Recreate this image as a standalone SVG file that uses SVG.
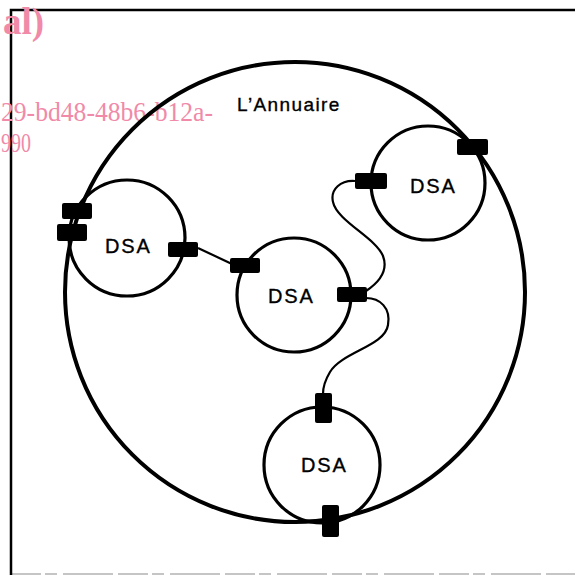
<svg xmlns="http://www.w3.org/2000/svg" width="575" height="575" viewBox="0 0 575 575">
  <style>
    .frame { fill: none; stroke: #000; stroke-width: 2.5; }
    .ring { fill: none; stroke: #000; stroke-width: 4; }
    .dsa { fill: none; stroke: #000; stroke-width: 3.2; }
    .link { fill: none; stroke: #000; stroke-width: 2.2; }
    .port { fill: #000; }
    .label { font-family: "Liberation Sans", Arial, sans-serif; fill: #000; stroke: #000; stroke-width: 0.35; }
    .mark { font-family: "Liberation Serif", "Times New Roman", serif; fill: #f08aa8; }
  </style>
  <rect width="575" height="575" fill="#fff"/>

  <!-- page frame -->
  <path class="frame" d="M11,575 V10 H575"/>
  <path d="M11,574 H575" stroke="#000" stroke-width="1.2" stroke-dasharray="30 4 12 6 50 5" opacity="0.45"/>

  <!-- overprinted marks -->
  <text class="mark" x="3" y="34" font-size="37" font-weight="bold">al)</text>
  <text class="mark" x="1" y="121" font-size="28" textLength="212" lengthAdjust="spacingAndGlyphs">29-bd48-48b6-b12a-</text>
  <text class="mark" x="1" y="152" font-size="28" textLength="30" lengthAdjust="spacingAndGlyphs">990</text>

  <!-- directory boundary -->
  <g id="annuaire">
    <circle class="ring" cx="295" cy="292" r="230"/>
    <text class="label" x="237" y="111" font-size="19" letter-spacing="1.4">L’Annuaire</text>
  </g>

  <!-- connectors between DSAs -->
  <g id="connectors">
    <path class="link" d="M198,248 L232,264"/>
    <path class="link" d="M355,181 C341,180 330,189 333,202 C337,221 376,238 383,256 C389,272 378,283 366,291"/>
    <path class="link" d="M366,298 C380,298 391,308 388,325 C385,346 342,352 330,372 C324,382 323,388 323,394"/>
  </g>

  <g id="dsa-left">
    <circle class="dsa" cx="127" cy="238" r="58"/>
    <text class="label" x="105" y="253" font-size="20" letter-spacing="1.8">DSA</text>
    <rect class="port" x="62" y="203" width="30" height="16" rx="2"/>
    <rect class="port" x="57" y="224" width="30" height="17" rx="2"/>
    <rect class="port" x="168" y="242" width="30" height="15" rx="2"/>
  </g>

  <g id="dsa-center">
    <circle class="dsa" cx="294" cy="295" r="57"/>
    <text class="label" x="268" y="303" font-size="20" letter-spacing="1.8">DSA</text>
    <rect class="port" x="230" y="258" width="30" height="15" rx="2"/>
    <rect class="port" x="337" y="287" width="30" height="15" rx="2"/>
  </g>

  <g id="dsa-upper-right">
    <circle class="dsa" cx="428" cy="183" r="57"/>
    <text class="label" x="410" y="193" font-size="20" letter-spacing="1.8">DSA</text>
    <rect class="port" x="355" y="173" width="32" height="16" rx="2"/>
    <rect class="port" x="457" y="139" width="31" height="16" rx="2"/>
  </g>

  <g id="dsa-bottom">
    <circle class="dsa" cx="322" cy="465" r="58"/>
    <text class="label" x="301" y="472" font-size="20" letter-spacing="1.8">DSA</text>
    <rect class="port" x="315" y="393" width="17" height="30" rx="2"/>
    <rect class="port" x="322" y="505" width="17" height="32" rx="2"/>
  </g>
</svg>
